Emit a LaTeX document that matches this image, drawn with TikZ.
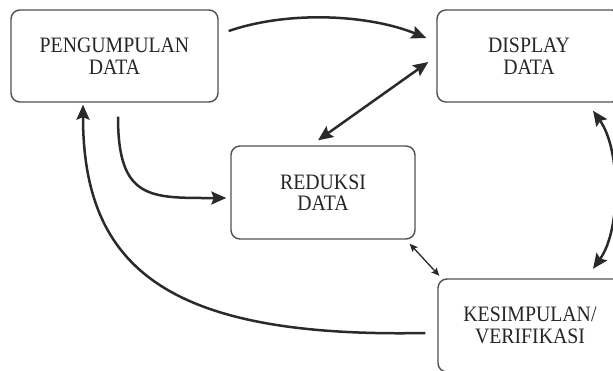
\documentclass[tikz,border=0pt]{standalone}
\usepackage{fontspec}
\setmainfont{Liberation Serif}[FakeStretch=0.9]
\usetikzlibrary{arrows.meta,calc}
\definecolor{boxline}{HTML}{505050}
\definecolor{arrowc}{HTML}{2A2A2A}
\definecolor{textc}{HTML}{262626}
\begin{document}
\begin{tikzpicture}[x=1pt,y=-1pt,
  box/.style={draw=boxline, line width=1.4pt, rounded corners=9pt, fill=white,
    align=center, text=textc, inner sep=0pt,
    font=\fontsize{22}{21.5}\selectfont},
  bigarrow/.style={draw=arrowc, line width=2.5pt,
    -{Stealth[length=15pt,width=13pt,inset=2.5pt]}},
  bigdouble/.style={draw=arrowc, line width=2.5pt,
    {Stealth[length=15pt,width=13pt,inset=2.5pt]}-{Stealth[length=15pt,width=13pt,inset=2.5pt]}},
  thindouble/.style={draw=arrowc, line width=1.3pt,
    {Stealth[length=8pt,width=7pt,inset=1.5pt]}-{Stealth[length=8pt,width=7pt,inset=1.5pt]}}
]
\useasboundingbox (0,0) rectangle (613,370);
\clip (0,0) rectangle (613,370);
\fill[white] (0,0) rectangle (613,370);

\node[box, minimum width=207pt, minimum height=92pt] (p) at (114.5,56) {PENGUMPULAN\\DATA};
\node[box, minimum width=184pt, minimum height=92pt] (d) at (529,56) {DISPLAY\\DATA};
\node[box, minimum width=184pt, minimum height=93pt] (r) at (323,192.5) {REDUKSI\\DATA};
\node[box, minimum width=184pt, minimum height=93pt] (k) at (530,325.5) {KESIMPULAN/\\VERIFIKASI};

% pengumpulan -> display
\draw[bigarrow] ($(p.east)+(10,-25)$) .. controls (290,10) and (370,15) .. ($(d.west)+(-10,-18)$);
% display <-> reduksi
\draw[bigdouble] ($(r.north)+(-5,-5)$) -- ($(d.west)+(-8,6)$);
% pengumpulan -> reduksi
\draw[bigarrow] ($(p.south)+(3.5,14)$) .. controls (118,200) and (150,198) .. ($(r.west)+(-4,5.5)$);
% display <-> kesimpulan
\draw[bigdouble] ($(d.south)+(64,8)$) .. controls (621,150) and (621,230) .. ($(k.north)+(63,-9.5)$);
% reduksi <-> kesimpulan
\draw[thindouble] ($(r.south east)+(-6,4)$) -- ($(k.north west)+(2,-2.5)$);
% kesimpulan -> pengumpulan
\draw[bigarrow] ($(k.west)+(-12,7.5)$) .. controls (170,338) and (83,270) .. ($(p.south)+(-31.5,2)$);
\end{tikzpicture}
\end{document}
